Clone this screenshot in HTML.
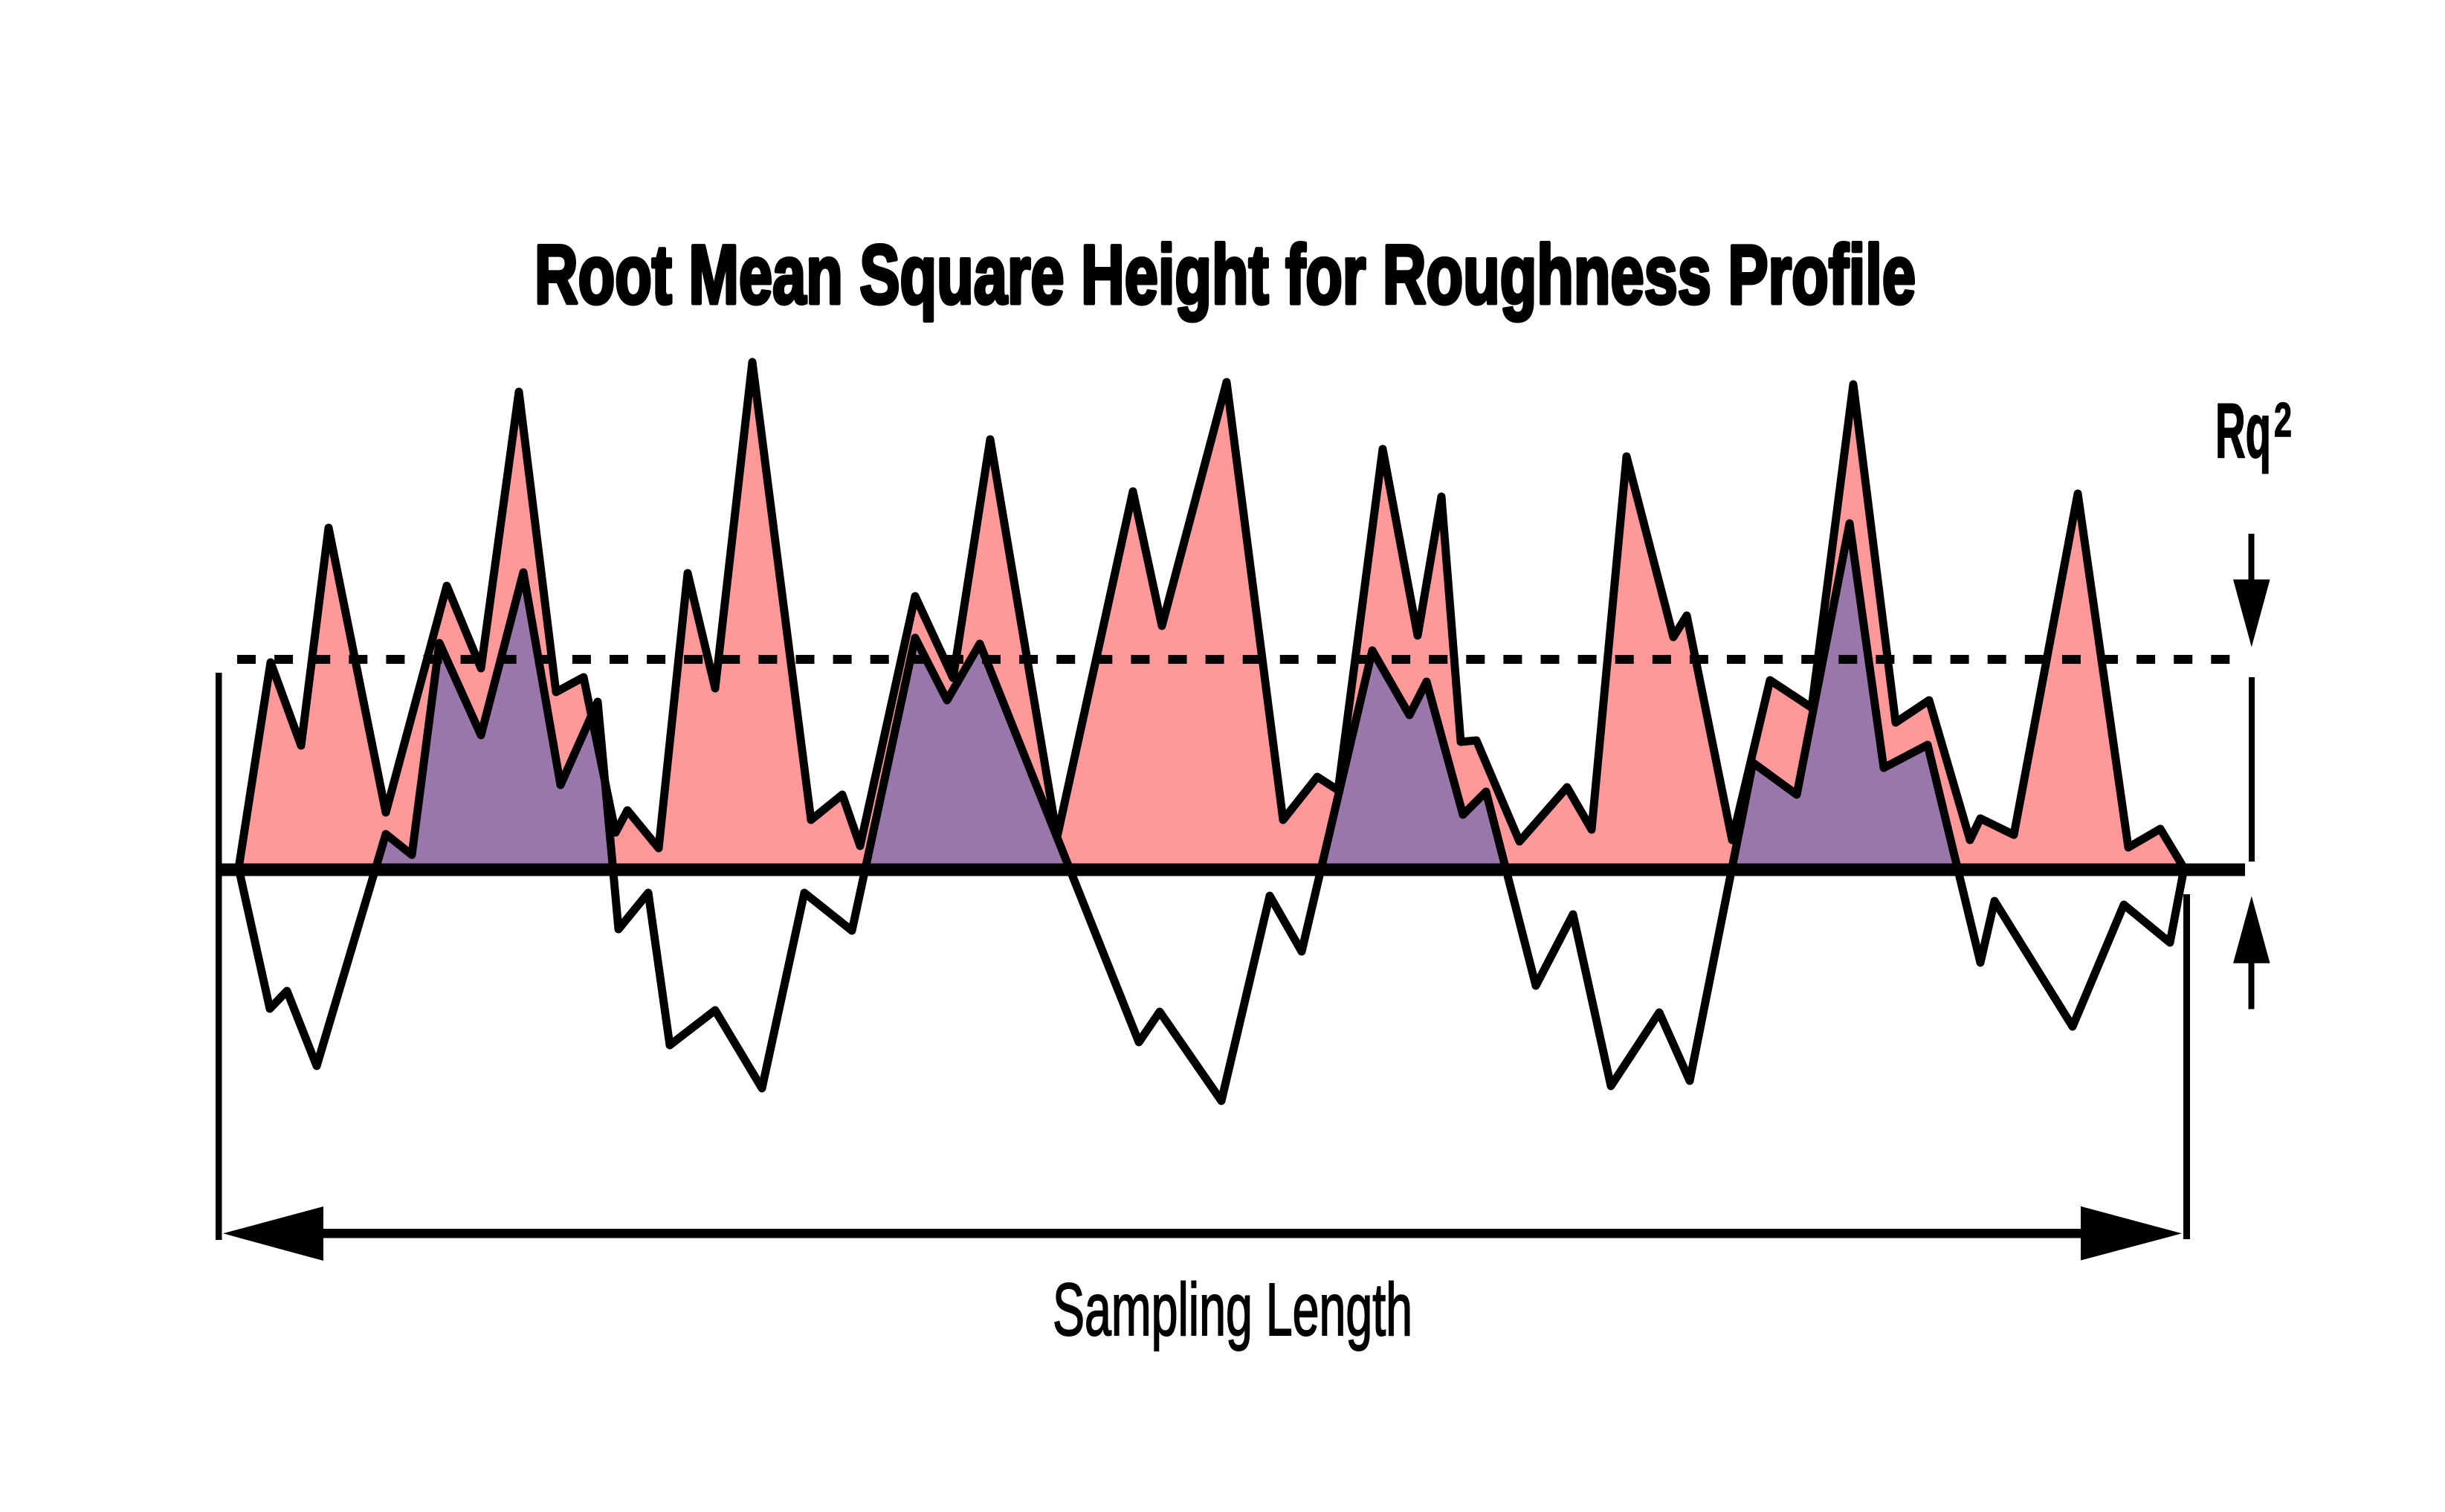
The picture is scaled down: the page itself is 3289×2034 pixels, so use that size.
<!DOCTYPE html>
<html>
<head>
<meta charset="utf-8">
<style>
  html, body { margin: 0; padding: 0; background: #ffffff; }
  svg { display: block; }
</style>
</head>
<body>
<svg xmlns="http://www.w3.org/2000/svg" width="3289" height="2034" viewBox="0 0 3289 2034">
  <defs>
    <clipPath id="above">
      <rect x="0" y="0" width="3289" height="1170"/>
    </clipPath>
  </defs>
  <rect x="0" y="0" width="3289" height="2034" fill="#ffffff"/>

  <!-- Title -->
  <text x="719" y="408" font-family="'Liberation Sans', sans-serif" font-weight="bold" font-size="112" textLength="1858" lengthAdjust="spacingAndGlyphs" fill="#000" stroke="#000" stroke-width="5" stroke-linejoin="round">Root Mean Square Height for Roughness Profile</text>

  <!-- Pink squared-profile fill -->
  <polygon fill="#ff9999" points="321,1170 364,891 405,1003 442,710 519,1093 601,788 647,899 698,527 748,931 785,911 828,1120 844,1090 886,1141 925,771 962,926 1012,487 1091,1103 1133,1069 1157,1138 1231,802 1282,912 1332,591 1422,1126 1524,661 1563,842 1650,514 1726,1103 1772,1045 1800,1063 1860,604 1907,855 1939,668 1965,998 1986,996 2044,1132 2108,1059 2141,1116 2188,614 2251,857 2269,828 2330,1130 2381,915 2437,952 2493,517 2550,972 2595,942 2650,1130 2664,1101 2709,1123 2795,664 2863,1140 2906,1115 2938,1168 2938,1170"/>

  <!-- Purple positive-part fill of original profile -->
  <polygon fill="#9977aa" clip-path="url(#above)" points="321,1168 363,1357 386,1333 426,1434 519,1122 554,1150 591,865 647,989 704,770 754,1056 804,944 832,1250 872,1201 901,1406 962,1359 1025,1464 1082,1201 1146,1252 1231,858 1274,942 1318,866 1532,1402 1560,1361 1643,1481 1708,1205 1751,1280 1846,875 1896,962 1919,917 1968,1096 1999,1065 2066,1326 2116,1230 2167,1461 2232,1362 2273,1454 2358,1026 2417,1069 2488,704 2534,1033 2593,1002 2664,1295 2683,1212 2788,1381 2857,1217 2919,1268 2938,1168"/>

  <!-- Pink outline -->
  <polyline fill="none" stroke="#000" stroke-width="11" stroke-linejoin="round" stroke-linecap="round" points="321,1168 364,891 405,1003 442,710 519,1093 601,788 647,899 698,527 748,931 785,911 828,1120 844,1090 886,1141 925,771 962,926 1012,487 1091,1103 1133,1069 1157,1138 1231,802 1282,912 1332,591 1422,1126 1524,661 1563,842 1650,514 1726,1103 1772,1045 1800,1063 1860,604 1907,855 1939,668 1965,998 1986,996 2044,1132 2108,1059 2141,1116 2188,614 2251,857 2269,828 2330,1130 2381,915 2437,952 2493,517 2550,972 2595,942 2650,1130 2664,1101 2709,1123 2795,664 2863,1140 2906,1115 2938,1168"/>

  <!-- Original profile outline -->
  <polyline fill="none" stroke="#000" stroke-width="11" stroke-linejoin="round" stroke-linecap="round" points="321,1168 363,1357 386,1333 426,1434 519,1122 554,1150 591,865 647,989 704,770 754,1056 804,944 832,1250 872,1201 901,1406 962,1359 1025,1464 1082,1201 1146,1252 1231,858 1274,942 1318,866 1532,1402 1560,1361 1643,1481 1708,1205 1751,1280 1846,875 1896,962 1919,917 1968,1096 1999,1065 2066,1326 2116,1230 2167,1461 2232,1362 2273,1454 2358,1026 2417,1069 2488,704 2534,1033 2593,1002 2664,1295 2683,1212 2788,1381 2857,1217 2919,1268 2938,1168"/>

  <!-- Mean line (baseline) -->
  <rect x="290" y="1161.5" width="2730" height="17" fill="#000"/>

  <!-- Dashed Rq line -->
  <line x1="319" y1="887" x2="3001" y2="887" stroke="#000" stroke-width="12" stroke-dasharray="25 25.1"/>

  <!-- Left vertical boundary -->
  <rect x="290" y="905" width="8.5" height="763" fill="#000"/>
  <!-- Right vertical boundary -->
  <rect x="2937" y="1203" width="9" height="464" fill="#000"/>

  <!-- Sampling length arrow -->
  <rect x="420" y="1653" width="2400" height="12.5" fill="#000"/>
  <polygon points="300,1659.3 435,1623 435,1696" fill="#000"/>
  <polygon points="2935,1659.3 2799,1622.7 2799,1695.5" fill="#000"/>

  <text x="1416" y="1796" font-family="'Liberation Sans', sans-serif" font-size="100" textLength="484" lengthAdjust="spacingAndGlyphs" fill="#000" stroke="#000" stroke-width="2">Sampling Length</text>

  <!-- Rq² indicator -->
  <text x="2980" y="615" font-family="'Liberation Sans', sans-serif" font-weight="bold" font-size="104" textLength="75" lengthAdjust="spacingAndGlyphs" fill="#000" stroke="#000" stroke-width="2">Rq</text>
  <text x="3059" y="587" font-family="'Liberation Sans', sans-serif" font-weight="bold" font-size="65" textLength="24" lengthAdjust="spacingAndGlyphs" fill="#000" stroke="#000" stroke-width="1.5">2</text>

  <!-- Down arrow -->
  <rect x="3024.5" y="718" width="8" height="64" fill="#000"/>
  <polygon points="3004,779.5 3053.6,779.5 3028.8,870.5" fill="#000"/>
  <!-- Right thin bar -->
  <rect x="3025" y="911" width="8" height="248" fill="#000"/>
  <!-- Up arrow -->
  <polygon points="3028.8,1205.4 3053.6,1295.8 3004,1295.8" fill="#000"/>
  <rect x="3024.5" y="1294" width="8" height="63.5" fill="#000"/>
</svg>
</body>
</html>
